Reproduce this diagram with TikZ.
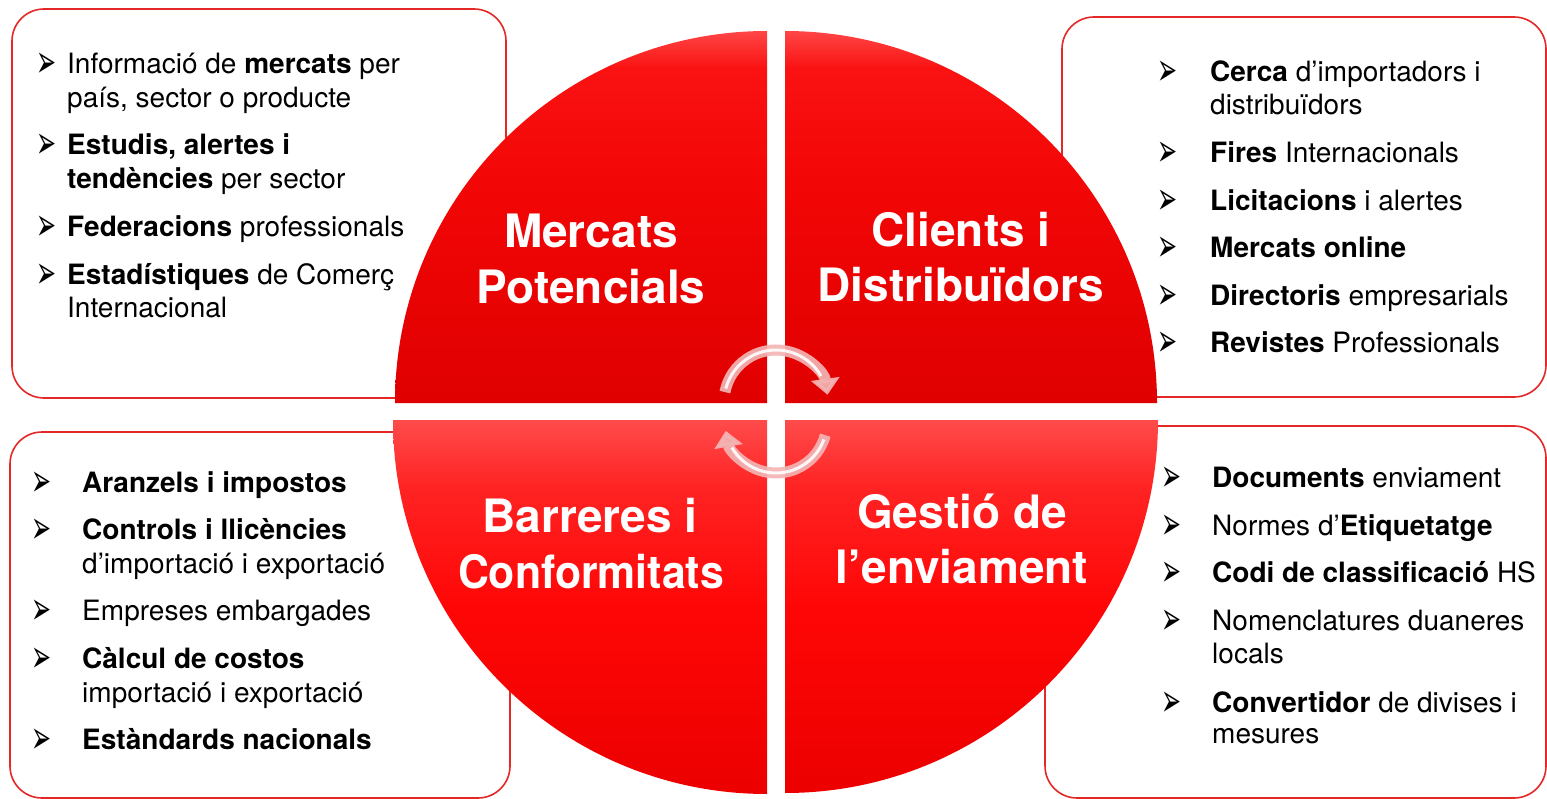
\documentclass[tikz,border=0pt]{standalone}
\usepackage{fontspec}
\setmainfont{TeX Gyre Heros}
\newfontfamily\dejavu{DejaVu Sans}
\usetikzlibrary{arrows.meta}
\definecolor{boxred}{RGB}{228,40,40}
\definecolor{tq0}{RGB}{224,0,0}
\definecolor{tq1}{RGB}{243,6,6}
\definecolor{tq2}{RGB}{250,18,18}
\definecolor{tq3}{RGB}{255,70,70}
\definecolor{bq0}{RGB}{236,0,0}
\definecolor{bq1}{RGB}{255,6,6}
\definecolor{bq2}{RGB}{255,35,35}
\definecolor{bq3}{RGB}{255,75,75}
\definecolor{arrpink}{RGB}{244,180,180}
\pgfdeclareverticalshading{topqsh}{100bp}{color(0bp)=(tq0); color(25bp)=(tq0); color(55bp)=(tq1); color(70bp)=(tq2); color(75bp)=(tq3); color(100bp)=(tq3)}
\pgfdeclareverticalshading{botqsh}{100bp}{color(0bp)=(bq0); color(25bp)=(bq0); color(50bp)=(bq1); color(66bp)=(bq2); color(75bp)=(bq3); color(100bp)=(bq3)}
\newcommand\arrbul{\scalebox{0.52}[1]{\dejavu\fontsize{46}{50}\selectfont ➢}}
\tikzset{
  infobox/.style={draw=boxred, line width=1.6pt, fill=white, rounded corners=32pt},
  txt/.style={anchor=base west, inner sep=0pt, font=\fontsize{28}{34}\selectfont, text=black},
  bul/.style={anchor=base west, inner sep=0pt, text=black, yshift=-3pt},
  title/.style={anchor=base, inner sep=0pt, font=\bfseries\fontsize{46}{56}\selectfont, text=white},
  topq/.style={shading=topqsh},
  botq/.style={shading=botqsh},
  cyc/.style={line width=11pt, draw=arrpink, opacity=0.92, -{Triangle[width=28pt,length=16pt]}},
  cychi/.style={line width=3pt, draw=white, opacity=0.9}
}
\begin{document}
\begin{tikzpicture}[x=1pt,y=-1pt]
\useasboundingbox (0,0) rectangle (1547,799);
% boxes
\draw[infobox] (12,9) rectangle (506,398);
\draw[infobox] (1062,17) rectangle (1546,397);
\draw[infobox] (10,432) rectangle (510,798);
\draw[infobox] (1045,426) rectangle (1546,798);
% quadrants
\shade[topq] (767,403) -- (395,403) arc[start angle=180,end angle=270,radius=372] -- cycle;
\shade[topq] (785,403) -- (785,31) arc[start angle=270,end angle=360,radius=372] -- cycle;
\shade[botq] (767,420) -- (767,794) arc[start angle=90,end angle=180,radius=374] -- cycle;
\shade[botq] (785,420) -- (1158,420) arc[start angle=0,end angle=90,radius=373] -- cycle;
% cycle arrows
\coordinate (ctop) at (776,402);
\coordinate (cbot) at (776,422);
\draw[cyc] ([shift={(191:52)}]ctop) arc[start angle=191,end angle=352,radius=52];
\draw[cychi] ([shift={(195:52)}]ctop) arc[start angle=195,end angle=330,radius=52];
\draw[cyc] ([shift={(15:51)}]cbot) arc[start angle=15,end angle=170,radius=51];
\draw[cychi] ([shift={(20:51)}]cbot) arc[start angle=20,end angle=150,radius=51];
% titles
\node[title] (t1a) at (591,248) {Mercats};
\node[title] (t1b) at (591,304) {Potencials};
\node[title] (t2a) at (961,247) {Clients i};
\node[title] (t2b) at (961,302) {Distribuïdors};
\node[title] (t3a) at (590,532) {Barreres i};
\node[title] (t3b) at (591,588) {\scalebox{0.93}[1]{Conformitats}};
\node[title] (t4a) at (962,528) {Gestió de};
\node[title] (t4b) at (962,583) {l’enviament};
% top-left list
\node[bul] (b11) at (36,75) {\arrbul};
\node[txt] (l11) at (67,74) {Informació de \textbf{mercats} per};
\node[txt] (l12) at (67,108) {país, sector o producte};
\node[bul] (b13) at (36,156) {\arrbul};
\node[txt] (l13) at (67,155) {\textbf{Estudis, alertes i}};
\node[txt] (l14) at (67,189) {\textbf{tendències} per sector};
\node[bul] (b15) at (36,238) {\arrbul};
\node[txt] (l15) at (67,237) {\textbf{Federacions} professionals};
\node[bul] (b16) at (36,286) {\arrbul};
\node[txt] (l16) at (67,285) {\textbf{Estadístiques} de Comerç};
\node[txt] (l17) at (67,318) {Internacional};
% top-right list
\node[bul] (b21) at (1157,83) {\arrbul};
\node[txt] (l21) at (1210,82) {\textbf{Cerca} d’importadors i};
\node[txt] (l22) at (1210,115) {distribuïdors};
\node[bul] (b23) at (1157,164) {\arrbul};
\node[txt] (l23) at (1210,163) {\textbf{Fires} Internacionals};
\node[bul] (b24) at (1157,212) {\arrbul};
\node[txt] (l24) at (1210,211) {\textbf{Licitacions} i alertes};
\node[bul] (b25) at (1157,259) {\arrbul};
\node[txt] (l25) at (1210,258) {\textbf{Mercats online}};
\node[bul] (b26) at (1157,307) {\arrbul};
\node[txt] (l26) at (1210,306) {\textbf{Directoris} empresarials};
\node[bul] (b27) at (1157,354) {\arrbul};
\node[txt] (l27) at (1210,353) {\textbf{Revistes} Professionals};
% bottom-left list
\node[bul] (b31) at (31,493) {\arrbul};
\node[txt] (l31) at (82,492) {\textbf{Aranzels i impostos}};
\node[bul] (b32) at (31,540) {\arrbul};
\node[txt] (l32) at (82,539) {\textbf{Controls i llicències}};
\node[txt] (l33) at (82,573) {d’importació i exportació};
\node[bul] (b34) at (31,621) {\arrbul};
\node[txt] (l34) at (82,620) {Empreses embargades};
\node[bul] (b35) at (31,669) {\arrbul};
\node[txt] (l35) at (82,668) {\textbf{Càlcul de costos}};
\node[txt] (l36) at (82,702) {importació i exportació};
\node[bul] (b37) at (31,750) {\arrbul};
\node[txt] (l37) at (82,749) {\textbf{Estàndards nacionals}};
% bottom-right list
\node[bul] (b41) at (1161,488) {\arrbul};
\node[txt] (l41) at (1212,487) {\textbf{Documents} enviament};
\node[bul] (b42) at (1161,536) {\arrbul};
\node[txt] (l42) at (1212,535) {Normes d’\textbf{Etiquetatge}};
\node[bul] (b43) at (1161,583) {\arrbul};
\node[txt] (l43) at (1212,582) {\textbf{Codi de classificació} HS};
\node[bul] (b44) at (1161,631) {\arrbul};
\node[txt] (l44) at (1212,630) {Nomenclatures duaneres};
\node[txt] (l45) at (1212,663) {locals};
\node[bul] (b46) at (1161,713) {\arrbul};
\node[txt] (l46) at (1212,712) {\textbf{Convertidor} de divises i};
\node[txt] (l47) at (1212,743) {mesures};
\end{tikzpicture}
\end{document}
